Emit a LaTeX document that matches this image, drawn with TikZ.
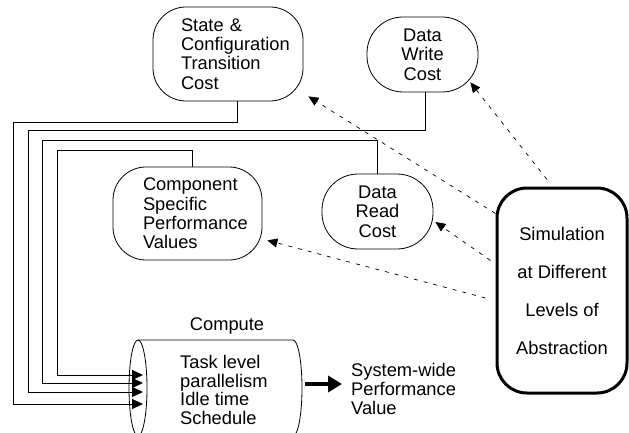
\documentclass[tikz,border=0pt]{standalone}
\usepackage{fontspec}
\setmainfont{Liberation Sans}
\usetikzlibrary{arrows.meta}

\tikzset{
  bubble/.style={draw, rounded corners=33pt, line width=0.8pt, inner sep=0pt},
  simbox/.style={draw, rounded corners=30pt, line width=3pt, inner sep=0pt, align=center, font=\fontsize{18.3}{38}\selectfont},
  wire/.style={line width=0.8pt, -{Triangle[length=11pt,width=10pt]}},
  hint/.style={line width=0.7pt, dash pattern=on 4pt off 6pt, -{Triangle[length=10pt,width=9pt]}},
  bigarrow/.style={line width=3.5pt, -{Triangle[length=14pt,width=16pt]}},
}

\begin{document}
\begin{tikzpicture}[x=1pt,y=-1pt,font=\fontsize{18.3}{19.3}\selectfont]
        \clip (0,0) rectangle (629,433);
        % Costs
        \node[bubble, minimum width=150pt, minimum height=94pt, text width=94pt, align=left] (state) at (228,54) {State \&\\ Configuration\\ Transition\\ Cost};
        \node[bubble, rounded corners=36pt, minimum width=111pt, minimum height=75pt, align=center] (write) at (422.5,54.5) {Data\\ Write\\ Cost};
        \node[bubble, minimum width=149pt, minimum height=93pt, text width=89pt, align=left] (comp) at (187.5,213.5) {Component\\ Specific\\ Performance\\ Values};
        \node[bubble, rounded corners=36pt, minimum width=111pt, minimum height=75pt, align=center] (read) at (377.5,211.5) {Data\\ Read\\ Cost};
        % Simulation
        \node[simbox, minimum width=130pt, minimum height=205pt] (sim) at (562,290.5) {Simulation\\ at Different\\ Levels of\\ Abstraction};
        % Compute
        \draw[line width=0.8pt] (138,388) ellipse [x radius=9pt, y radius=48pt];
        \draw[line width=0.8pt] (138,340) -- (293,340) arc[start angle=90, end angle=-90, x radius=9pt, y radius=48pt] -- (138,436);
        \node (computelbl) at (227,326) {Compute};
        \node[anchor=west, align=left, inner sep=0pt, font=\fontsize{18.3}{18.7}\selectfont] (task) at (180,390) {Task level\\ parallelism\\ Idle time\\ Schedule};
        \coordinate (in1) at (143,404);
        \coordinate (in2) at (143,392);
        \coordinate (in3) at (143,383);
        \coordinate (in4) at (143,375);
        \draw[wire] ([xshift=9pt]state.south) -- ++(0,21) -| ([xshift=-130pt]in1) -- (in1);
        \draw[wire] ([xshift=2.5pt]write.south) -- ++(0,38) -| ([xshift=-115pt]in2) -- (in2);
        \draw[wire] (read.north) -- ++(0,-33) -| ([xshift=-101pt]in3) -- (in3);
        \draw[wire] ([xshift=4.5pt]comp.north) -- ++(0,-16) -| ([xshift=-86pt]in4) -- (in4);
        % Output
        \coordinate (cylout) at (305,384);
        \node[anchor=west, align=left, inner sep=0pt, inner xsep=9pt] (sysval) at (342,389) {System-wide\\ Performance\\ Value};
        \draw[bigarrow] (cylout) -- (cylout -| sysval.west);
        % Levels
        \draw[hint] ([yshift=77pt]sim.west) -- ([xshift=5pt,yshift=5pt]state.south east);
        \draw[hint] ([xshift=-15pt,yshift=7pt]sim.north) -- ([xshift=-8pt,yshift=10pt]write.south east);
        \draw[hint] ([xshift=-5pt,yshift=30pt]sim.west) -- ([xshift=2pt,yshift=-10.5pt]read.east);
        \draw[hint] ([xshift=-10pt,yshift=-7.5pt]sim.west) -- ([xshift=5pt,yshift=20pt]comp.south east);
\end{tikzpicture}
\end{document}
